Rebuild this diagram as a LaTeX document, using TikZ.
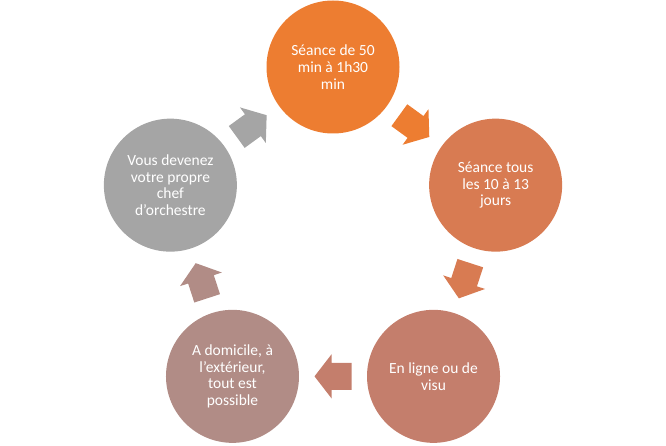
\documentclass[tikz,border=0pt]{standalone}
\usepackage{fontspec}
\setmainfont{Carlito}
\usetikzlibrary{calc}
\definecolor{cA}{HTML}{ED7D31}
\definecolor{cB}{HTML}{D87B52}
\definecolor{cC}{HTML}{C47E6C}
\definecolor{cD}{HTML}{B18C86}
\definecolor{cE}{HTML}{A5A5A5}
\tikzset{
  stepcircle/.style={circle, minimum size=133pt, inner sep=0pt, align=center,
    text=white, font=\fontsize{15.5}{16.8}\selectfont},
  blockarrow/.pic={\fill[pic actions] (-18.5,-13.5) -- (1.5,-13.5) -- (1.5,-22) -- (18.5,0)
    -- (1.5,22) -- (1.5,13.5) -- (-18.5,13.5) -- cycle;}
}
\begin{document}
\begin{tikzpicture}[x=1pt,y=1pt]
\useasboundingbox (0,0) rectangle (666,445);
\coordinate (c) at (333,207);
\node[stepcircle, fill=cA] (n1) at ($(c)+(90:171)$) {Séance de 50\\min à 1h30\\min};
\node[stepcircle, fill=cB] (n2) at ($(c)+(18:171)$) {Séance tous\\les 10 à 13\\jours};
\node[stepcircle, fill=cC] (n3) at ($(c)+(-54:171)$) {En ligne ou de\\visu};
\node[stepcircle, fill=cD] (n4) at ($(c)+(-126:171)$) {A domicile, à\\l’extérieur,\\tout est\\possible};
\node[stepcircle, fill=cE] (n5) at ($(c)+(162:171)$) {Vous devenez\\votre propre\\chef\\d’orchestre};
\pic[rotate=-36, fill=cA] at ($(n1)!0.5!(n2)$) {blockarrow};
\pic[rotate=-108, fill=cB] at ($(n2)!0.5!(n3)$) {blockarrow};
\pic[rotate=180, fill=cC] at ($(n3)!0.5!(n4)$) {blockarrow};
\pic[rotate=108, fill=cD] at ($(n4)!0.5!(n5)$) {blockarrow};
\pic[rotate=36, fill=cE] at ($(n5)!0.5!(n1)$) {blockarrow};
\end{tikzpicture}
\end{document}
